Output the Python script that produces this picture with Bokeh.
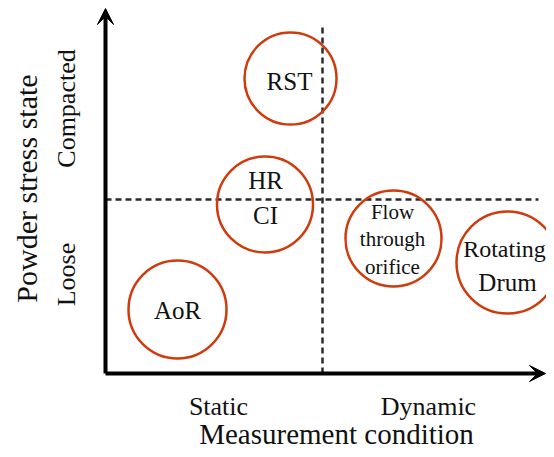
from bokeh.plotting import figure
from bokeh.models import Range1d, Arrow, VeeHead, ColumnDataSource
from bokeh.core.properties import value
from bokeh.embed import file_html
from bokeh.resources import INLINE

# ---- data (diagram units, origin at axis corner, y up) ----
method_names = ["RST", "HR/CI", "AoR", "Flow through orifice", "Rotating Drum"]
method_x = [185, 159.5, 72, 288, 402]
method_y = [295, 169, 64, 135, 111]
method_r = [46, 48, 49, 48, 51]

label_text = ["RST", "HR", "CI", "AoR", "Flow", "through", "orifice", "Rotating", "Drum"]
label_x = [184, 160, 160, 72, 287, 287, 287, 399, 402]
label_y = [284, 185, 150, 55, 153, 126, 98, 116, 83]
label_size = ["25px", "25px", "25px", "25px", "21px", "21px", "21px", "24px", "25px"]

condition_labels = ["Static", "Dynamic"]
condition_x = [113, 323]
condition_y = [-42, -42]

state_labels = ["Loose", "Compacted"]
state_y = [99, 265]
state_x = [-30, -30]

x_title = "Measurement condition"
y_title = "Powder stress state"

x_axis_end = 440
y_axis_end = 365
split_x = 217
split_top = 348
split_y = 174
split_right = 433

FONT = "Liberation Serif"
RED = "#cf3b0c"
TEXT = "#111111"

p = figure(width=546, height=449, output_backend="svg", toolbar_location=None,
           x_range=Range1d(-105, 441), y_range=Range1d(-76, 373),
           min_border=0, outline_line_color=None)
p.axis.visible = False
p.grid.visible = False
p.background_fill_color = "white"
p.border_fill_color = "white"

# dashed quadrant dividers
p.line([split_x, split_x], [0, split_top], line_color="#2a2a2a", line_width=2.5, line_dash="6 4")
p.line([0, split_right], [split_y, split_y], line_color="#2a2a2a", line_width=2.5, line_dash="6 4")

# circles
src = ColumnDataSource(dict(x=method_x, y=method_y, r=method_r, name=method_names))
p.circle("x", "y", radius="r", source=src, fill_color=None, line_color=RED, line_width=2.5)

# labels in circles
lsrc = ColumnDataSource(dict(x=label_x, y=label_y, text=label_text, size=label_size))
p.text("x", "y", text="text", source=lsrc, text_font=value(FONT), text_font_size="size",
       text_align="center", text_baseline="alphabetic", text_color=TEXT, y_offset=-8.5)

# axes with arrows
p.add_layout(Arrow(x_start=0, y_start=0, x_end=x_axis_end, y_end=0, line_width=4,
                   line_color="black",
                   end=VeeHead(size=16, fill_color="black", line_color="black", line_width=1)))
p.add_layout(Arrow(x_start=0, y_start=0, x_end=0, y_end=y_axis_end, line_width=4,
                   line_color="black",
                   end=VeeHead(size=16, fill_color="black", line_color="black", line_width=1)))

# category labels
p.text(condition_x, condition_y, text=condition_labels, text_font=value(FONT),
       text_font_size="26px", text_align="center", text_baseline="alphabetic", text_color=TEXT,
       y_offset=-9)
p.text(state_x, state_y, text=state_labels, text_font=value(FONT), angle=1.5708,
       text_font_size="26px", text_align="center", text_baseline="alphabetic", text_color=TEXT,
       x_offset=-9)

# titles
p.text([231], [-70], text=[x_title], text_font=value(FONT), text_font_size="29px",
       text_align="center", text_baseline="alphabetic", text_color=TEXT, y_offset=-10)
p.text([-69], [185], text=[y_title], text_font=value(FONT), angle=1.5708,
       text_font_size="30px", text_align="center", text_baseline="alphabetic", text_color=TEXT,
       x_offset=-10)

open("out.html", "w").write(file_html(p, INLINE))
